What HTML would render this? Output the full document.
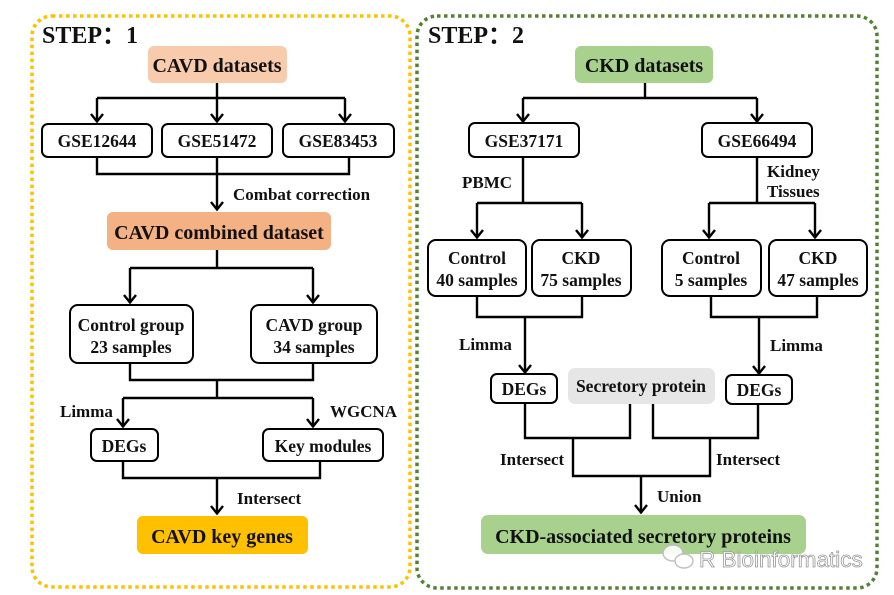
<!DOCTYPE html>
<html><head><meta charset="utf-8"><style>
html,body{margin:0;padding:0;background:#fff;width:894px;height:595px;overflow:hidden}
text{font-family:"Liberation Serif",serif;font-weight:bold;fill:#111}
</style></head><body>
<svg width="894" height="595" viewBox="0 0 894 595" xmlns="http://www.w3.org/2000/svg">
<defs>
<marker id="a" markerWidth="14" markerHeight="14" refX="12" refY="7" orient="auto" markerUnits="userSpaceOnUse">
<path d="M4,1 L11.5,7 L4,13" fill="none" stroke="#000" stroke-width="2.4"/>
</marker>
</defs>
<rect x="32" y="16" width="378" height="571" rx="20" fill="none" stroke="#FFC000" stroke-width="3.5" stroke-dasharray="3.5,3.5"/>
<rect x="417" y="16" width="460" height="572" rx="20" fill="none" stroke="#548235" stroke-width="3.5" stroke-dasharray="3.5,3.5"/>

<g fill="none" stroke="#000" stroke-width="2.4">
<path d="M217,83 V98 M97,98 H345"/>
<line x1="97" y1="98" x2="97" y2="122" marker-end="url(#a)"/>
<line x1="217" y1="98" x2="217" y2="122" marker-end="url(#a)"/>
<line x1="345" y1="98" x2="345" y2="122" marker-end="url(#a)"/>
<path d="M97,157 V174 H349 V157"/>
<line x1="217" y1="157" x2="217" y2="210" marker-end="url(#a)"/>
<path d="M217,250 V268 M130,268 H313"/>
<line x1="130" y1="268" x2="130" y2="303" marker-end="url(#a)"/>
<line x1="313" y1="268" x2="313" y2="303" marker-end="url(#a)"/>
<path d="M130,363 V380 H313 V363 M217,380 V398 M123,398 H313"/>
<line x1="123" y1="398" x2="123" y2="427" marker-end="url(#a)"/>
<line x1="313" y1="398" x2="313" y2="427" marker-end="url(#a)"/>
<path d="M123,461 V478 H320 V461"/>
<line x1="217" y1="478" x2="217" y2="514" marker-end="url(#a)"/>
<path d="M645,83 V98 M523,98 H757"/>
<line x1="523" y1="98" x2="523" y2="122" marker-end="url(#a)"/>
<line x1="757" y1="98" x2="757" y2="122" marker-end="url(#a)"/>
<path d="M523,157 V203 M477,203 H582 M757,157 V203 M709,203 H815"/>
<line x1="477" y1="203" x2="477" y2="238" marker-end="url(#a)"/>
<line x1="582" y1="203" x2="582" y2="238" marker-end="url(#a)"/>
<line x1="709" y1="203" x2="709" y2="238" marker-end="url(#a)"/>
<line x1="815" y1="203" x2="815" y2="238" marker-end="url(#a)"/>
<path d="M477,296 V317 H582 V296 M711,296 V317 H817 V296"/>
<line x1="525" y1="317" x2="525" y2="373" marker-end="url(#a)"/>
<line x1="759" y1="317" x2="759" y2="374" marker-end="url(#a)"/>
<path d="M525,403 V438 H630 V404 M653,404 V438 H758 V404 M573,438 V476 H710 V438"/>
<line x1="641" y1="476" x2="641" y2="513" marker-end="url(#a)"/>
</g>

<text x="42" y="43" font-size="24">STEP：1</text>
<rect x="148" y="46" width="139" height="37" rx="6" fill="#F8CBAD"/>
<text x="217" y="72" font-size="20" text-anchor="middle">CAVD datasets</text>
<g fill="#fff" stroke="#000" stroke-width="2">
<rect x="42" y="124" width="110" height="33" rx="6"/>
<rect x="162" y="124" width="110" height="33" rx="6"/>
<rect x="283" y="124" width="111" height="33" rx="6"/>
<rect x="70" y="305" width="123" height="58" rx="8"/>
<rect x="251" y="305" width="126" height="58" rx="8"/>
<rect x="91" y="429" width="67" height="32" rx="6"/>
<rect x="263" y="429" width="120" height="32" rx="6"/>
<rect x="469" y="123" width="110" height="34" rx="6"/>
<rect x="702" y="123" width="110" height="34" rx="6"/>
<rect x="428" y="240" width="98" height="56" rx="8"/>
<rect x="532" y="240" width="99" height="56" rx="8"/>
<rect x="662" y="240" width="99" height="56" rx="8"/>
<rect x="769" y="240" width="98" height="56" rx="8"/>
<rect x="491" y="374" width="66" height="29" rx="6"/>
<rect x="726" y="375" width="66" height="29" rx="6"/>
</g>
<g font-size="17.5" text-anchor="middle">
<text x="97" y="147">GSE12644</text>
<text x="217" y="147">GSE51472</text>
<text x="338" y="147">GSE83453</text>
<text x="131" y="331">Control group</text>
<text x="131" y="353">23 samples</text>
<text x="314" y="331">CAVD group</text>
<text x="314" y="353">34 samples</text>
<text x="124" y="452">DEGs</text>
<text x="323" y="452">Key modules</text>
<text x="524" y="147">GSE37171</text>
<text x="757" y="147">GSE66494</text>
<text x="477" y="264">Control</text>
<text x="477" y="286">40 samples</text>
<text x="581" y="264">CKD</text>
<text x="581" y="286">75 samples</text>
<text x="711" y="264">Control</text>
<text x="711" y="286">5 samples</text>
<text x="818" y="264">CKD</text>
<text x="818" y="286">47 samples</text>
<text x="524" y="395">DEGs</text>
<text x="759" y="396">DEGs</text>
</g>
<rect x="107" y="212" width="224" height="38" rx="6" fill="#F4B183"/>
<text x="219" y="239" font-size="20" text-anchor="middle">CAVD combined dataset</text>
<rect x="137" y="516" width="171" height="38" rx="6" fill="#FFC000"/>
<text x="222" y="543" font-size="20" text-anchor="middle">CAVD key genes</text>
<g font-size="17">
<text x="233" y="200">Combat correction</text>
<text x="60" y="417">Limma</text>
<text x="330" y="417">WGCNA</text>
<text x="237" y="504">Intersect</text>
<text x="462" y="188">PBMC</text>
<text x="767" y="177">Kidney</text>
<text x="767" y="197">Tissues</text>
<text x="459" y="350">Limma</text>
<text x="770" y="351">Limma</text>
<text x="500" y="465">Intersect</text>
<text x="716" y="465">Intersect</text>
<text x="657" y="502">Union</text>
</g>
<text x="428" y="43" font-size="24">STEP：2</text>
<rect x="575" y="46" width="138" height="37" rx="6" fill="#A9D18E"/>
<text x="644" y="72" font-size="20" text-anchor="middle">CKD datasets</text>
<rect x="568" y="368" width="147" height="36" rx="7" fill="#E7E6E6"/>
<text x="641" y="392" font-size="17.5" text-anchor="middle">Secretory protein</text>
<rect x="481" y="515" width="325" height="39" rx="7" fill="#A9D18E"/>
<text x="643" y="543" font-size="20" text-anchor="middle">CKD-associated secretory proteins</text>
<g fill="#fff" stroke="#bbb" stroke-width="1.5" opacity="0.9">
<ellipse cx="673" cy="553" rx="10" ry="8"/>
<ellipse cx="684" cy="561" rx="9" ry="7"/>
</g>
<text x="699" y="567" font-size="22.5" style="font-family:'Liberation Sans',sans-serif;font-weight:normal;fill:#fff;stroke:#999;stroke-width:0.8">R Bioinformatics</text>
</svg>
</body></html>
